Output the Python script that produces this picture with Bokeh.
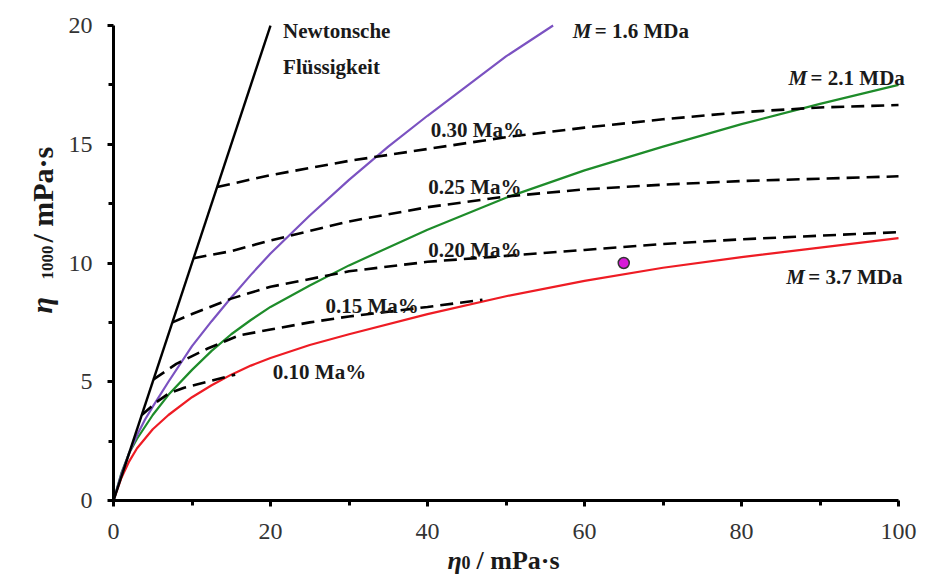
from bokeh.plotting import figure
from bokeh.models import Range1d, FixedTicker, Label
from bokeh.embed import file_html
from bokeh.resources import INLINE

# ---------------- data ----------------
x_ticks = [0, 20, 40, 60, 80, 100]
x_minor = [10, 30, 50, 70, 90]
y_ticks = [0, 5, 10, 15, 20]
y_minor = [2.5, 7.5, 12.5, 17.5]

newton_x = [0, 20]
newton_y = [0, 20]

m16_x = [0, 1, 2, 3, 4, 5, 7, 10, 12.5, 15, 17.5, 20, 25, 30, 35, 40, 45, 50, 56]
m16_y = [0, 1.1, 2.0, 2.75, 3.4, 3.95, 5.0, 6.5, 7.55, 8.55, 9.5, 10.4, 12.0, 13.5, 14.9, 16.2, 17.45, 18.7, 20.0]

m21_x = [0, 1, 2, 3, 5, 7, 10, 12.5, 15, 17.5, 20, 25, 30, 40, 50, 60, 70, 80, 90, 100]
m21_y = [0, 1.15, 2.0, 2.6, 3.6, 4.45, 5.5, 6.3, 7.0, 7.6, 8.15, 9.05, 9.9, 11.4, 12.75, 13.9, 14.9, 15.85, 16.7, 17.5]

m37_x = [0, 1, 2, 3, 5, 7, 10, 12.5, 15, 17.5, 20, 25, 30, 40, 50, 60, 70, 80, 90, 100]
m37_y = [0, 0.95, 1.65, 2.2, 3.0, 3.6, 4.35, 4.85, 5.3, 5.68, 6.0, 6.55, 7.0, 7.85, 8.6, 9.25, 9.8, 10.25, 10.65, 11.05]

c30_x = [13.2, 20, 30, 40, 50, 60, 70, 80, 90, 100]
c30_y = [13.2, 13.7, 14.3, 14.8, 15.3, 15.7, 16.05, 16.35, 16.55, 16.65]

c25_x = [10.2, 15, 20, 30, 40, 50, 60, 70, 80, 90, 100]
c25_y = [10.2, 10.5, 10.95, 11.75, 12.35, 12.8, 13.1, 13.3, 13.45, 13.55, 13.65]

c20_x = [7.5, 10, 15, 20, 30, 40, 50, 60, 70, 80, 90, 100]
c20_y = [7.5, 7.85, 8.5, 9.0, 9.65, 10.05, 10.3, 10.55, 10.8, 11.0, 11.15, 11.3]

c15_x = [5.1, 8, 12, 16, 20, 25, 30, 35, 40, 47]
c15_y = [5.1, 5.75, 6.4, 6.95, 7.2, 7.5, 7.75, 7.95, 8.15, 8.45]

c10_x = [3.6, 5.5, 7, 9, 12, 15.5]
c10_y = [3.6, 4.15, 4.5, 4.75, 5.0, 5.3]

point_x = [65]
point_y = [10]

# ---------------- figure ----------------
# the frame fills the whole canvas; the axes sit at x=0 / y=0 (fixed_location)
p = figure(width=922, height=575, output_backend="svg", toolbar_location=None,
           x_range=Range1d(-14.395, 103.057), y_range=Range1d(-3.158, 21.053),
           min_border_left=0, min_border_right=0, min_border_top=0, min_border_bottom=0)
p.title.visible = False
p.outline_line_color = None
p.xgrid.visible = False
p.ygrid.visible = False
p.background_fill_color = "white"
p.border_fill_color = "white"

p.xaxis.ticker = FixedTicker(ticks=x_ticks, minor_ticks=x_minor)
p.yaxis.ticker = FixedTicker(ticks=y_ticks, minor_ticks=y_minor)
p.xaxis.fixed_location = 0
p.yaxis.fixed_location = 0
p.xaxis.bounds = (0, 100)
p.yaxis.bounds = (0, 20)
for ax in (p.xaxis[0], p.yaxis[0]):
    ax.axis_line_width = 3
    ax.axis_line_color = "black"
    ax.major_tick_line_width = 3
    ax.minor_tick_line_width = 3
    ax.major_tick_out = 6
    ax.major_tick_in = 0
    ax.minor_tick_out = 5
    ax.minor_tick_in = 0
    ax.major_label_text_font = "Liberation Serif"
    ax.major_label_text_font_size = "24px"
    ax.major_label_text_color = "#333333"
p.xaxis.major_label_standoff = 18
p.yaxis.major_label_standoff = 15

LW = 2.2
p.line(m37_x, m37_y, color="#ee1c24", line_width=LW)
p.line(m21_x, m21_y, color="#1e8c2a", line_width=LW)
p.line(m16_x, m16_y, color="#7b52c1", line_width=LW)

for xs, ys in [(c30_x, c30_y), (c25_x, c25_y), (c20_x, c20_y), (c15_x, c15_y), (c10_x, c10_y)]:
    p.line(xs, ys, color="black", line_width=2.6, line_dash="13 7")

p.line(newton_x, newton_y, color="black", line_width=2.4)

p.scatter(point_x, point_y, size=11, fill_color="#d81ad8", line_color="#333333", line_width=1.5)

# ---------------- text ----------------
FONT = "Liberation Serif"

def lab(x, y, text, size="21px", style="bold", xo=0, yo=0, angle=0):
    p.add_layout(Label(x=x, y=y, text=text, x_offset=xo, y_offset=yo,
                       text_font=FONT, text_font_size=size, text_font_style=style,
                       text_color="#1a1a1a", text_align="left", text_baseline="alphabetic",
                       angle=angle, angle_units="deg"))

lab(21.6, 19.75, "Newtonsche")
lab(21.6, 18.27, "Flüssigkeit")

lab(58.5, 19.75, "M", style="bold italic")
lab(58.5, 19.75, "= 1.6 MDa", xo=22)
lab(86.0, 17.77, "M", style="bold italic")
lab(86.0, 17.77, "= 2.1 MDa", xo=22)
lab(85.7, 9.39, "M", style="bold italic")
lab(85.7, 9.39, "= 3.7 MDa", xo=22)

lab(40.4, 15.58, "0.30 Ma%")
lab(40.1, 13.18, "0.25 Ma%")
lab(40.1, 10.53, "0.20 Ma%")
lab(27.0, 8.21, "0.15 Ma%")
lab(20.3, 5.39, "0.10 Ma%")

# x axis label: eta_0 / mPa·s
lab(42.55, -2.53, "η", size="26px", style="bold italic")
lab(42.55, -2.53, "0", size="18px", style="bold", xo=14, yo=-2)
lab(42.55, -2.53, "/ mPa·s", size="26px", style="bold", xo=29)

# y axis label: eta_1000 / mPa·s (rotated)
lab(-9.2, 7.87, "η", size="30px", style="bold italic", angle=90)
lab(-8.4, 9.31, "1000", size="17px", style="bold", angle=90)
lab(-9.04, 10.86, "/ mPa·s", size="30px", style="bold", angle=90)

open("out.html", "w", encoding="utf-8").write(file_html(p, INLINE))
